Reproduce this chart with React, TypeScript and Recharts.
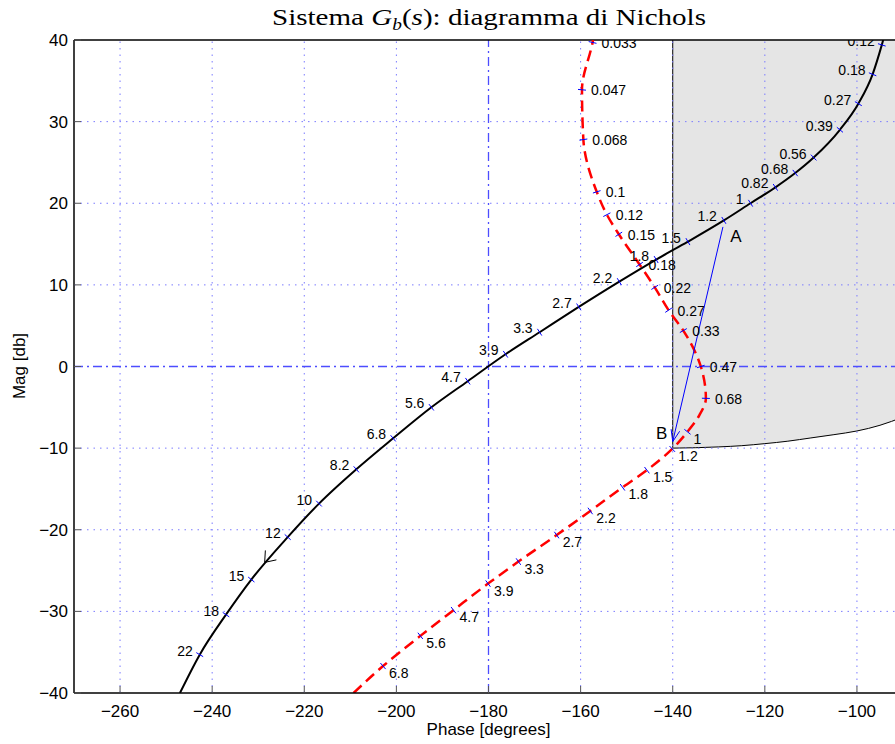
import React from "react";
import { ComposedChart, Line, Area, XAxis, YAxis, ReferenceLine, ReferenceDot } from "recharts";

// Nichols plot of G_b(s): open loop (black), closed-loop locus (red dashed), forbidden region (gray)

// open loop, ordered by increasing phase
const blackPhase = [-247.0, -242.7, -237.0, -231.5, -223.6, -216.8, -208.7, -200.7, -192.4, -184.5, -176.3, -168.9, -160.4, -151.6, -143.6, -136.7, -128.9, -123.1, -117.7, -113.4, -109.4, -103.7, -99.7, -96.6, -94.6, -94.3];
const blackMag = [-40, -35.3, -30.4, -26.1, -20.9, -16.8, -12.6, -8.8, -5.0, -1.8, 1.5, 4.2, 7.3, 10.4, 13.1, 15.3, 17.9, 20.0, 21.95, 23.7, 25.6, 29.0, 32.2, 35.8, 39.4, 40];
const blackFreq = ["", "22", "18", "15", "12", "10", "8.2", "6.8", "5.6", "4.7", "3.9", "3.3", "2.7", "2.2", "1.8", "1.5", "1.2", "1", "0.82", "0.68", "0.56", "0.39", "0.27", "0.18", "0.12", ""];
const blackArrow = { phase: -228.6, mag: -24.0 };

// closed-loop locus, ordered by increasing magnitude
const redPhase = [-209.3, -202.9, -194.8, -187.6, -180.1, -173.5, -165.2, -157.9, -150.9, -145.6, -140.1, -136.8, -134.2, -132.8, -133.9, -137.7, -140.9, -143.9, -147.2, -151.7, -154.3, -156.5, -159.4, -159.7, -157.4, -157.3];
const redMag = [-40, -36.7, -33.0, -29.85, -26.6, -23.9, -20.65, -17.7, -14.8, -12.7, -10.1, -8.0, -5.95, -3.9, 0.0, 4.4, 6.9, 9.7, 12.5, 16.2, 18.6, 21.4, 27.8, 33.9, 39.7, 40];
const redFreq = ["", "6.8", "5.6", "4.7", "3.9", "3.3", "2.7", "2.2", "1.8", "1.5", "1.2", "1", "", "0.68", "0.47", "0.33", "0.27", "0.22", "0.18", "0.15", "0.12", "0.1", "0.068", "0.047", "0.033", ""];

const regionPhase = [-140, -135, -130, -125, -120, -115, -110, -105, -100, -95, -90];
const regionLow = [-10, -9.95, -9.85, -9.7, -9.45, -9.15, -8.75, -8.35, -7.9, -7.2, -6.2];
const regionTop = 40;
const regionEdge = -140;

const abPhase = [-129.1, -140];
const abMag = [17.1, -9.2];
const abNames = ["A", "B"];

const xTicks = [-260, -240, -220, -200, -180, -160, -140, -120, -100];
const yTicks = [-40, -30, -20, -10, 0, 10, 20, 30, 40];

const CHART_W = 913;
const CHART_H = 744;
const Y_AXIS_W = 74;
const X_AXIS_H = 51;
const TOP = 40;
const RIGHT = 10;
const PX_DEG = (CHART_W - Y_AXIS_W - RIGHT) / 180;
const PX_DB = (CHART_H - TOP - X_AXIS_H) / 80;

const SANS = "'Liberation Sans', Arial, Helvetica, sans-serif";
const SERIF = "'Liberation Serif', 'Times New Roman', serif";

const fmt = (v: number) => (v < 0 ? "\u2212" + Math.abs(v) : String(v));

const blackData = blackPhase.map((x, i) => ({ x, y: blackMag[i], i }));
const redData = redPhase.map((x, i) => ({ x, y: redMag[i], i }));
const regionData = regionPhase.map((x, i) => ({ x, y: regionLow[i], range: [regionLow[i], regionTop] }));
const abData = abPhase.map((x, i) => ({ x, y: abMag[i], i }));

function unit(dPh: number, dMag: number) {
  const dx = dPh * PX_DEG;
  const dy = -dMag * PX_DB;
  const len = Math.hypot(dx, dy) || 1;
  return [dx / len, dy / len];
}

function dirAt(ph: number[], mg: number[], i: number) {
  const a = Math.max(0, i - 1);
  const b = Math.min(ph.length - 1, i + 1);
  return unit(ph[b] - ph[a], mg[b] - mg[a]);
}

function arrowPath(cx: number, cy: number, ux: number, uy: number, len: number, ang: number) {
  const wing = (t: number) => {
    const c = Math.cos(t), s = Math.sin(t);
    return [cx + len * (-ux * c + uy * s), cy + len * (-ux * s - uy * c)];
  };
  const [x1, y1] = wing(ang);
  const [x2, y2] = wing(-ang);
  return `M${x1},${y1}L${cx},${cy}L${x2},${y2}`;
}

function freqDot(ph: number[], mg: number[], freq: string[], kind: "black" | "red") {
  return (props: any) => {
    const { cx, cy, payload } = props;
    const i = payload.i;
    const key = `${kind}-${i}`;
    const label = freq[i];
    if (cx == null || cy == null || !label) return <g key={key} />;
    const [ux, uy] = dirAt(ph, mg, i);
    const nx = -uy, ny = ux;
    const lower = kind === "red" && mg[i] <= -7.5;
    const tx = kind === "black" ? cx - 7 : cx + (lower ? 6 : 9);
    const ty = kind === "black" ? cy + 1 : cy + (lower ? 12 : 5.5);
    return (
      <g key={key}>
        <line x1={cx - 4 * nx} y1={cy - 4 * ny} x2={cx + 4 * nx} y2={cy + 4 * ny} stroke="#0000ff" strokeWidth={1} />
        <text x={tx} y={ty} textAnchor={kind === "black" ? "end" : "start"} fontSize={14} fontFamily={SANS} fill="#000">
          {label}
        </text>
      </g>
    );
  };
}

// arrow on the open-loop curve, pointing toward increasing frequency (decreasing phase)
const BlackArrow = (props: any) => {
  const { cx, cy } = props;
  if (cx == null || cy == null) return <g />;
  let k = 1;
  while (k < blackPhase.length - 1 && blackPhase[k] < blackArrow.phase) k++;
  const [ux, uy] = unit(blackPhase[k - 1] - blackPhase[k], blackMag[k - 1] - blackMag[k]);
  return <path d={arrowPath(cx, cy, ux, uy, 12, 0.65)} fill="none" stroke="#000" strokeWidth={1} />;
};

const abDot = (props: any) => {
  const { cx, cy, payload } = props;
  const i = payload.i;
  if (cx == null || cy == null) return <g key={`ab-${i}`} />;
  if (i === 0) {
    return (
      <text key="ab-0" x={cx + 13} y={cy + 15} textAnchor="middle" fontSize={17} fontFamily={SANS} fill="#000">
        {abNames[0]}
      </text>
    );
  }
  const [ux, uy] = unit(abPhase[1] - abPhase[0], abMag[1] - abMag[0]);
  return (
    <g key="ab-1">
      <path d={arrowPath(cx, cy, ux, uy, 12.5, 0.36)} fill="none" stroke="#0000ff" strokeWidth={1} />
      <text x={cx - 11} y={cy - 3} textAnchor="middle" fontSize={17} fontFamily={SANS} fill="#000">
        {abNames[1]}
      </text>
    </g>
  );
};

const gridStyle = { stroke: "#7b7bff", strokeDasharray: "1.5 5", strokeWidth: 1 };
const dashDot = { stroke: "#4d4dff", strokeDasharray: "9 4 2 4", strokeWidth: 1.3 };

export default function App() {
  return (
    <div style={{ position: "absolute", left: 0, top: 0, width: 895, height: 744, overflow: "hidden", background: "#fff" }}>
      <ComposedChart width={CHART_W} height={CHART_H} margin={{ top: TOP, right: RIGHT, bottom: 0, left: 0 }}>
        <XAxis
          type="number"
          dataKey="x"
          domain={[-270, -90]}
          ticks={xTicks}
          interval={0}
          height={X_AXIS_H}
          allowDataOverflow
          tickSize={-7}
          tickMargin={19}
          tickFormatter={fmt}
          axisLine={{ stroke: "#000", strokeWidth: 1.5 }}
          tickLine={{ stroke: "#555" }}
          tick={{ fontSize: 17, fill: "#000", fontFamily: SANS }}
        />
        <YAxis
          type="number"
          domain={[-40, 40]}
          ticks={yTicks}
          interval={0}
          width={Y_AXIS_W}
          allowDataOverflow
          tickSize={-7}
          tickMargin={13}
          tickFormatter={fmt}
          axisLine={{ stroke: "#000", strokeWidth: 1.5 }}
          tickLine={{ stroke: "#555" }}
          tick={{ fontSize: 17, fill: "#000", fontFamily: SANS }}
        />
        <Area data={regionData} dataKey="range" type="monotone" fill="#e5e5e5" fillOpacity={1} stroke="none" isAnimationActive={false} />
        <Line data={regionData} dataKey="y" type="monotone" stroke="#000" strokeWidth={1} dot={false} activeDot={false} isAnimationActive={false} />
        <ReferenceLine segment={[{ x: regionEdge, y: regionLow[0] }, { x: regionEdge, y: regionTop }]} stroke="#000" strokeWidth={1} />
        {xTicks.filter((t) => t !== -180).map((t) => (
          <ReferenceLine key={`gx${t}`} x={t} {...gridStyle} />
        ))}
        {yTicks.filter((t) => t !== 0 && Math.abs(t) !== 40).map((t) => (
          <ReferenceLine key={`gy${t}`} y={t} {...gridStyle} />
        ))}
        <ReferenceLine x={-180} {...dashDot} />
        <ReferenceLine y={0} {...dashDot} />
        <ReferenceLine y={40} stroke="#000" strokeWidth={1.5} />
        <Line
          data={redData}
          dataKey="y"
          type="monotoneY"
          stroke="#ff0000"
          strokeWidth={2.5}
          strokeDasharray="11 6"
          dot={freqDot(redPhase, redMag, redFreq, "red")}
          activeDot={false}
          isAnimationActive={false}
        />
        <Line
          data={blackData}
          dataKey="y"
          type="monotoneX"
          stroke="#000"
          strokeWidth={2}
          dot={freqDot(blackPhase, blackMag, blackFreq, "black")}
          activeDot={false}
          isAnimationActive={false}
        />
        <ReferenceDot x={blackArrow.phase} y={blackArrow.mag} shape={BlackArrow} />
        <Line data={abData} dataKey="y" type="linear" stroke="#0000ff" strokeWidth={1} dot={abDot} activeDot={false} isAnimationActive={false} />
      </ComposedChart>
      <div
        style={{
          position: "absolute",
          left: 488.5,
          top: 6,
          transform: "translateX(-50%) scaleX(1.21)",
          whiteSpace: "nowrap",
          fontFamily: SERIF,
          fontSize: 24,
          lineHeight: "22px",
        }}
      >
        Sistema <i>G</i>
        <span style={{ fontSize: 16, position: "relative", top: 5, fontStyle: "italic" }}>b</span>(<i>s</i>): diagramma di Nichols
      </div>
      <div
        style={{
          position: "absolute",
          left: 20,
          top: 366,
          transform: "translate(-50%, -50%) rotate(-90deg)",
          whiteSpace: "nowrap",
          fontFamily: SANS,
          fontSize: 17,
        }}
      >
        Mag [db]
      </div>
      <div
        style={{
          position: "absolute",
          left: 488.5,
          top: 721,
          transform: "translateX(-50%)",
          whiteSpace: "nowrap",
          fontFamily: SANS,
          fontSize: 17,
          lineHeight: "17px",
        }}
      >
        Phase [degrees]
      </div>
    </div>
  );
}
